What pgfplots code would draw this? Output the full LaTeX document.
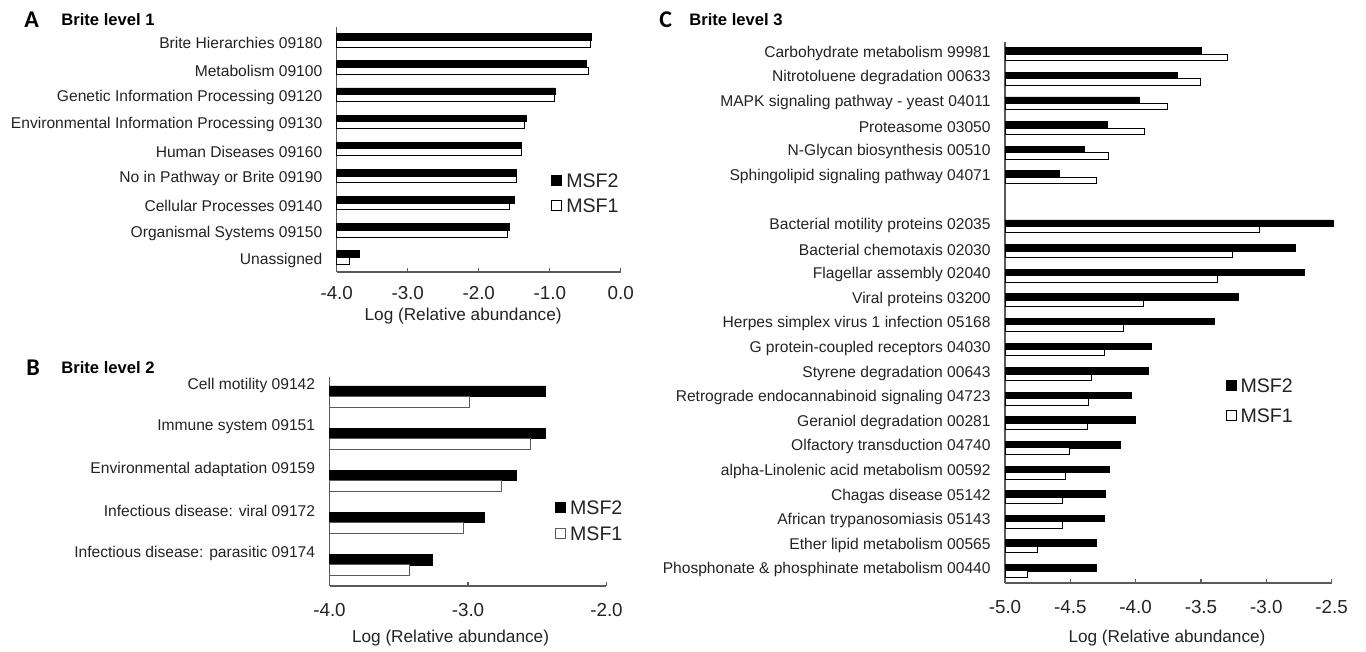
\documentclass[border=0pt]{standalone}
\usepackage{pgfplots}
\pgfplotsset{compat=1.18}
\usepackage{fontspec}
\setmainfont{Liberation Sans}
\newfontfamily\carlito{Carlito}
\definecolor{txt}{RGB}{35,35,35}
\definecolor{axc}{RGB}{90,90,90}
\pgfplotsset{
  panel/.style={
    scale only axis,
    axis x line*=bottom, axis y line*=left,
    axis line style={axc, line width=0.6pt},
    every tick/.style={axc, line width=0.6pt},
    xtick align=inside,
    major tick length=2pt,
    ytick style={draw=none},
    yticklabel style={font=\fontsize{7.8}{9}\selectfont, text=txt, anchor=east, inner sep=0pt, xshift=-7pt},
    xticklabel style={font=\fontsize{9.4}{11}\selectfont, text=txt, anchor=center, inner sep=0pt, yshift=-10.5pt},
    clip=false,
    legend cell align=left,
  },
  m2/.style={xbar, fill=black, draw=black, line width=0.4pt,
    legend image code/.code={\draw[##1] (0pt,-2.6pt) rectangle (5pt,2.4pt);}},
  m1/.style={xbar, fill=white, draw=black, line width=0.5pt,
    legend image code/.code={\draw[##1] (0pt,-2.6pt) rectangle (5pt,2.4pt);}},
  leg/.style={draw=none, fill=none, inner sep=0pt, anchor=west,
    font=\fontsize{9.8}{11}\selectfont, text=txt, column sep=2pt,
    nodes={inner sep=0pt, text height=7pt, text depth=0pt}},
}
\begin{document}
\begin{tikzpicture}
\useasboundingbox (0,0) rectangle (683pt,-326pt);
% titles
\node[anchor=west, inner sep=0pt, font=\carlito\bfseries\fontsize{12}{14}\selectfont] at (12pt,-10pt) {A};
\node[anchor=west, inner sep=0pt, font=\bfseries\fontsize{8.3}{10}\selectfont] at (30.5pt,-10pt) {Brite level 1};
\node[anchor=west, inner sep=0pt, font=\carlito\bfseries\fontsize{12}{14}\selectfont] at (13pt,-184pt) {B};
\node[anchor=west, inner sep=0pt, font=\bfseries\fontsize{8.3}{10}\selectfont] at (30.5pt,-184pt) {Brite level 2};
\node[anchor=west, inner sep=0pt, font=\carlito\bfseries\fontsize{12}{14}\selectfont] at (329.5pt,-10pt) {C};
\node[anchor=west, inner sep=0pt, font=\bfseries\fontsize{8.3}{10}\selectfont] at (344.5pt,-10pt) {Brite level 3};

% ---------------- Panel A
\begin{axis}[panel,
  at={(168.35pt,-136pt)}, anchor=south west,
  width=142.05pt, height=122.5pt,
  xmin=0, xmax=4, ymin=-8.54, ymax=0.5,
  xtick={0,1,2,3,4}, xticklabels={-4.0,-3.0,-2.0,-1.0,0.0},
  ytick={-8,-7,-6,-5,-4,-3,-2,-1,0},
  yticklabels={Unassigned, Organismal Systems 09150, Cellular Processes 09140, No in Pathway or Brite 09190, Human Diseases 09160, Environmental Information Processing 09130, Genetic Information Processing 09120, Metabolism 09100, Brite Hierarchies 09180},
  yticklabel style={yshift=-1.4pt},
  every axis x label/.style={at={(axis description cs:0.445,0)}, anchor=center, yshift=-22pt, font=\fontsize{8.6}{10}\selectfont, text=txt},
  xlabel={Log (Relative abundance)},
  legend style={leg, at={(axis description cs:0.754,0.324)}, row sep=5.5pt},
]
\addplot[m2, bar width=0.25, bar shift=0.125, x filter/.expression={x+4}] coordinates {
(-0.41,0) (-0.48,-1) (-0.92,-2) (-1.33,-3) (-1.40,-4) (-1.47,-5) (-1.50,-6) (-1.57,-7) (-3.68,-8)};
\addplot[m1, bar width=0.25, bar shift=-0.125, x filter/.expression={x+4}] coordinates {
(-0.42,0) (-0.46,-1) (-0.93,-2) (-1.36,-3) (-1.40,-4) (-1.47,-5) (-1.56,-6) (-1.60,-7) (-3.82,-8)};
\legend{MSF2, MSF1}
\end{axis}

% ---------------- Panel B
\begin{axis}[panel,
  at={(164.75pt,-293pt)}, anchor=south west,
  width=138.5pt, height=104.65pt,
  xmin=0, xmax=2, ymin=-4.5, ymax=0.475,
  xtick={0,1,2}, xticklabels={-4.0,-3.0,-2.0},
  xticklabel style={yshift=-1.5pt},
  ytick={-4,-3,-2,-1,0},
  yticklabels={Infectious disease: parasitic 09174, Infectious disease: viral 09172, Environmental adaptation 09159, Immune system 09151, Cell motility 09142},
  yticklabel style={yshift=5.85pt},
  every axis x label/.style={at={(axis description cs:0.437,0)}, anchor=center, yshift=-26pt, font=\fontsize{8.6}{10}\selectfont, text=txt},
  xlabel={Log (Relative abundance)},
  legend style={leg, at={(axis description cs:0.813,0.315)}, row sep=6pt},
]
\addplot[m2, bar width=0.254, bar shift=0.127, x filter/.expression={x+4}] coordinates {
(-2.44,0) (-2.44,-1) (-2.65,-2) (-2.88,-3) (-3.26,-4)};
\addplot[m1, draw=axc, bar width=0.254, bar shift=-0.127, x filter/.expression={x+4}] coordinates {
(-2.99,0) (-2.55,-1) (-2.76,-2) (-3.03,-3) (-3.42,-4)};
\legend{MSF2, MSF1}
\end{axis}

% ---------------- Panel C
\begin{axis}[panel,
  at={(502.5pt,-291.5pt)}, anchor=south west,
  width=163.3pt, height=270.65pt,
  xmin=0, xmax=2.5, ymin=-21.49, ymax=0.51,
  xtick={0,0.5,1,1.5,2,2.5}, xticklabels={-5.0,-4.5,-4.0,-3.5,-3.0,-2.5},
  xticklabel style={yshift=-1.5pt},
  ytick={-21,-20,-19,-18,-17,-16,-15,-14,-13,-12,-11,-10,-9,-8,-7,-5,-4,-3,-2,-1,0},
  yticklabels={Phosphonate \& phosphinate metabolism 00440, Ether lipid metabolism 00565, African trypanosomiasis 05143, Chagas disease 05142, alpha-Linolenic acid metabolism 00592, Olfactory transduction 04740, Geraniol degradation 00281, Retrograde endocannabinoid signaling 04723, Styrene degradation 00643, G protein-coupled receptors 04030, Herpes simplex virus 1 infection 05168, Viral proteins 03200, Flagellar assembly 02040, Bacterial chemotaxis 02030, Bacterial motility proteins 02035, Sphingolipid signaling pathway 04071, N-Glycan biosynthesis 00510, Proteasome 03050, MAPK signaling pathway - yeast 04011, Nitrotoluene degradation 00633, Carbohydrate metabolism 99981},
  yticklabel style={yshift=0.5pt},
  every axis x label/.style={at={(axis description cs:0.496,0)}, anchor=center, yshift=-27.5pt, font=\fontsize{8.6}{10}\selectfont, text=txt},
  xlabel={Log (Relative abundance)},
  legend style={leg, at={(axis description cs:0.674,0.338)}, row sep=8pt},
]
\addplot[m2, bar width=0.264, bar shift=0.132, x filter/.expression={x+5}] coordinates {
(-3.50,0) (-3.68,-1) (-3.97,-2) (-4.22,-3) (-4.39,-4) (-4.58,-5)
(-2.49,-7) (-2.78,-8) (-2.71,-9) (-3.21,-10) (-3.40,-11) (-3.88,-12) (-3.90,-13) (-4.03,-14) (-4.00,-15) (-4.12,-16) (-4.20,-17) (-4.23,-18) (-4.24,-19) (-4.30,-20) (-4.30,-21)};
\addplot[m1, bar width=0.264, bar shift=-0.132, x filter/.expression={x+5}] coordinates {
(-3.30,0) (-3.50,-1) (-3.76,-2) (-3.93,-3) (-4.21,-4) (-4.30,-5)
(-3.05,-7) (-3.26,-8) (-3.37,-9) (-3.94,-10) (-4.09,-11) (-4.24,-12) (-4.34,-13) (-4.36,-14) (-4.37,-15) (-4.51,-16) (-4.54,-17) (-4.56,-18) (-4.56,-19) (-4.75,-20) (-4.83,-21)};
\legend{MSF2, MSF1}
\end{axis}
\end{tikzpicture}
\end{document}
